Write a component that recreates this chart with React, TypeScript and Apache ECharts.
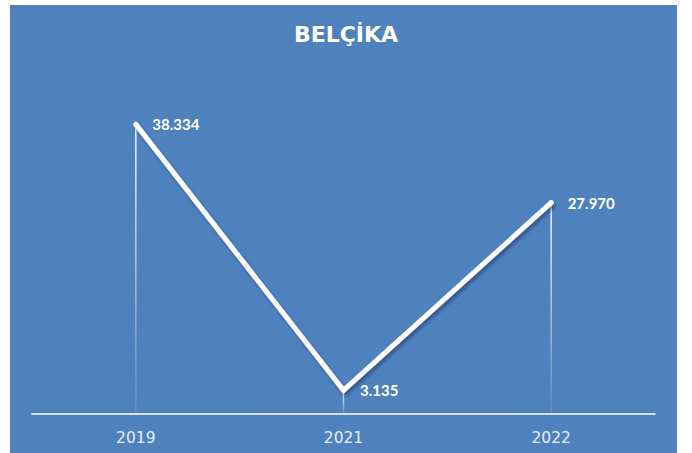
import React, { useEffect, useRef } from "react";
import * as echarts from "echarts";

const categories = ["2019", "2021", "2022"];
const values = [38.334, 3.135, 27.97];
const labels = ["38.334", "3.135", "27.970"];
const title = "BELÇİKA";

export default function App() {
  const ref = useRef<HTMLDivElement>(null);
  useEffect(() => {
    const chart = echarts.init(ref.current!, null, { renderer: "svg" });
    const font = "Lato";
    chart.setOption({
      animation: false,
      backgroundColor: "#ffffff",
      graphic: [
        {
          type: "rect",
          z: -10,
          shape: { x: 10, y: 5, width: 667, height: 450 },
          style: { fill: "#4f81bd" },
        },
      ],
      title: {
        text: title,
        left: "center",
        top: 18,
        textStyle: {
          color: "#ffffff",
          fontFamily: "DejaVu Sans",
          fontWeight: "bold",
          fontSize: 22,
        },
      },
      grid: { left: 32, right: 37, top: 74, bottom: 39 },
      xAxis: {
        type: "category",
        data: categories,
        boundaryGap: true,
        axisLine: { lineStyle: { color: "#ffffff", width: 1.5 } },
        axisTick: { show: false },
        axisLabel: {
          color: "#e6edf6",
          fontFamily: "DejaVu Sans",
          fontSize: 15.5,
          margin: 16,
        },
      },
      yAxis: {
        type: "value",
        min: 0,
        max: 45,
        show: false,
        splitLine: { show: false },
      },
      series: [
        {
          type: "bar",
          data: values,
          barWidth: 1.5,
          z: 1,
          silent: true,
          itemStyle: {
            color: new echarts.graphic.LinearGradient(0, 0, 0, 1, [
              { offset: 0, color: "rgba(255,255,255,0.95)" },
              { offset: 1, color: "rgba(255,255,255,0.08)" },
            ]),
          },
        },
        {
          type: "line",
          data: values,
          z: 3,
          symbol: "circle",
          symbolSize: 5,
          itemStyle: { color: "#ffffff" },
          lineStyle: {
            color: "#ffffff",
            width: 5,
            cap: "round",
            join: "miter",
            shadowColor: "rgba(20,40,80,0.45)",
            shadowBlur: 3,
            shadowOffsetX: 2,
            shadowOffsetY: 3,
          },
          label: {
            show: true,
            position: "right",
            distance: 14,
            color: "#ffffff",
            fontFamily: font,
            fontWeight: "bold",
            fontSize: 15,
            formatter: (p: any) => labels[p.dataIndex],
          },
        },
      ],
    });
    return () => chart.dispose();
  }, []);
  return (
    <div
      ref={ref}
      style={{ position: "absolute", left: 0, top: 0, width: 692, height: 453 }}
    />
  );
}
